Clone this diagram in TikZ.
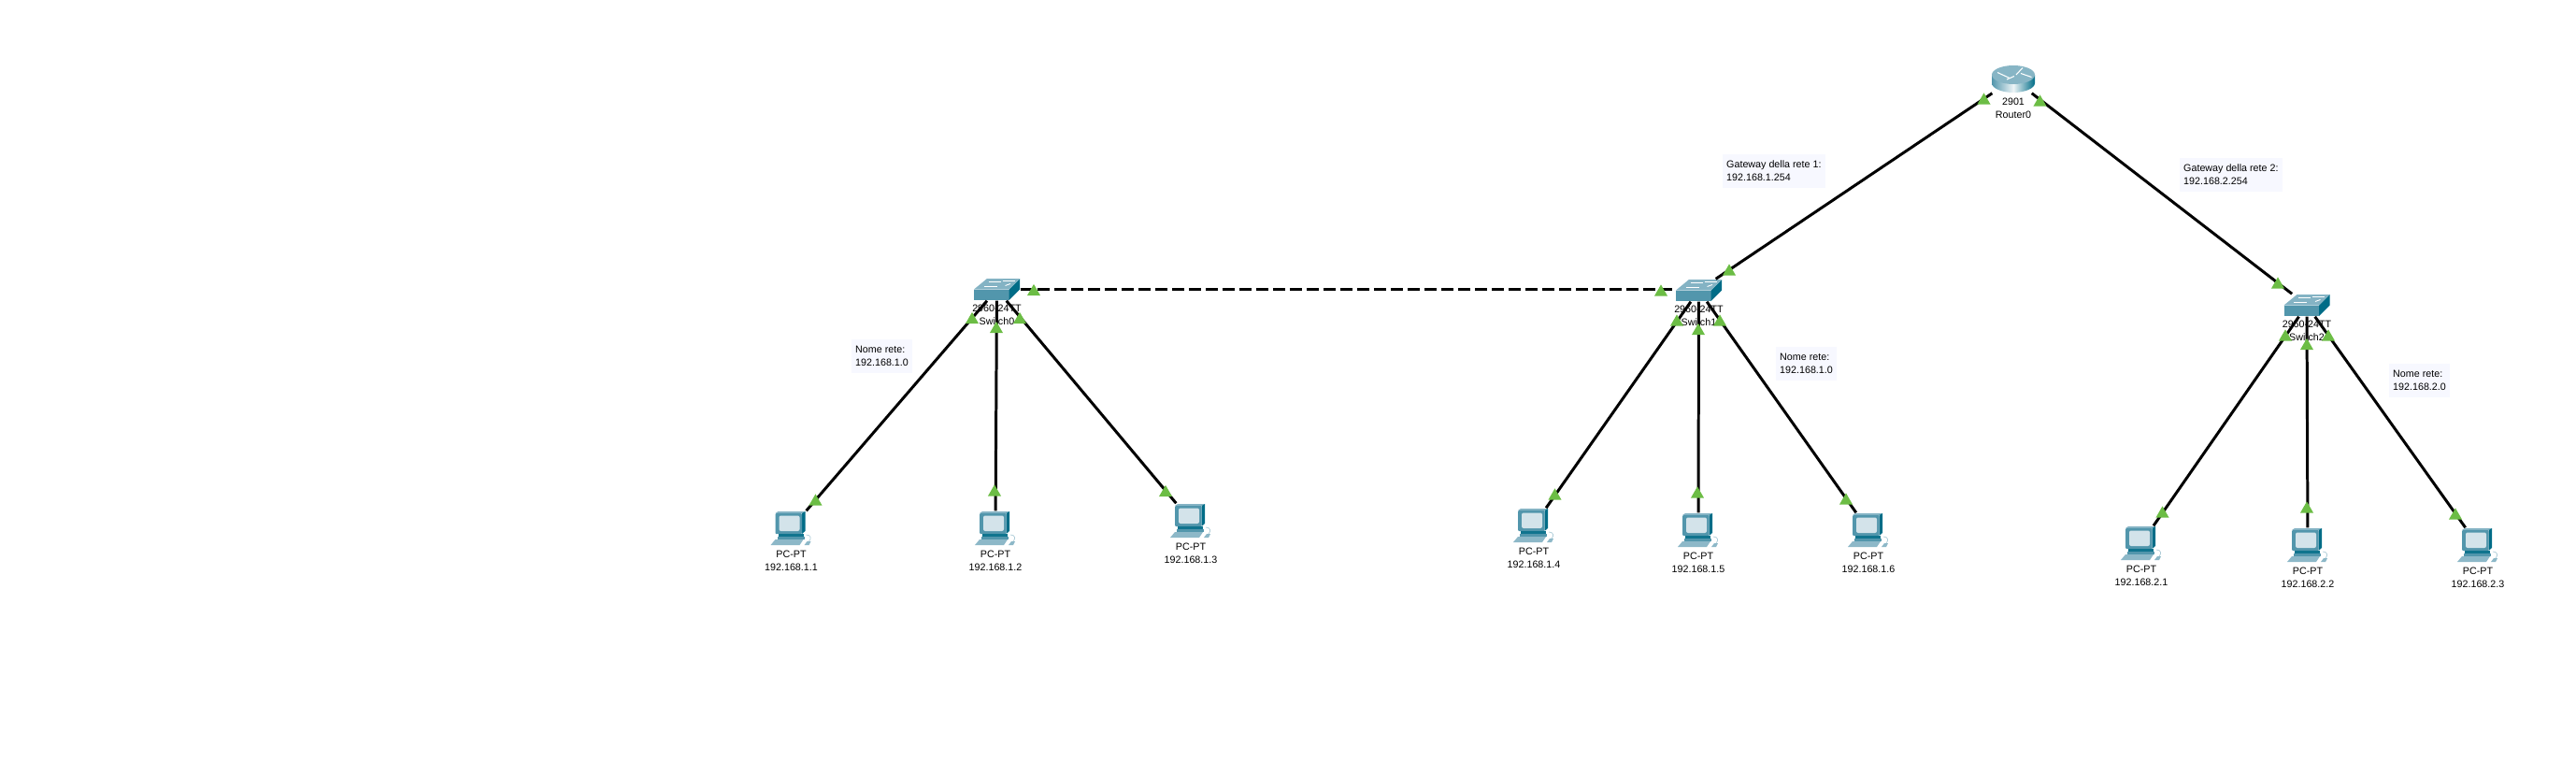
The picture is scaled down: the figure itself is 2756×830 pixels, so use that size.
\documentclass[tikz,border=0pt]{standalone}
\usepackage{fontspec}
\setmainfont{Liberation Sans}
\usetikzlibrary{shapes.geometric, positioning}

\definecolor{lampgreen}{HTML}{6CBD45}
\definecolor{notefill}{HTML}{F7F8FF}
\definecolor{iconlight}{HTML}{8DB8C8}
\definecolor{iconmid}{HTML}{5296AC}
\definecolor{icondark}{HTML}{006C87}
\definecolor{iconscreen}{HTML}{D3E3EA}

% icons, drawn around the centre of their node
\newcommand{\routericon}{%
  \shade[left color=iconmid, right color=icondark, middle color=white!85!iconlight]
    (-23,-4.5) -- (-23,4.5) .. controls (-23,10) and (-12,14.5) .. (0,14.5)
    .. controls (12,14.5) and (23,10) .. (23,4.5) -- (23,-4.5) -- cycle;
  \fill[iconlight!90!iconmid] (0,-4.5) ellipse [x radius=23, y radius=10];
  \draw[white, line width=0.3pt] (-17,-7) -- (-4,-1);
  \draw[white, line width=0.3pt] (3,-4.5) -- (10,-12);
  \draw[white, line width=0.3pt] (8,-6) -- (19.5,-2);
  \draw[white, line width=0.3pt] (-7,0.5) -- (1,-3);
}

\newcommand{\switchicon}{%
  \fill[iconmid] (-24.5,0) rectangle (13,11.5);
  \fill[icondark] (13,0) -- (24.5,-11.5) -- (24.5,0) -- (13,11.5) -- cycle;
  \fill[iconlight!85!iconmid] (-24.5,0) -- (-10.5,-11.5) -- (24.5,-11.5) -- (13,0) -- cycle;
  \draw[white, line width=0.25pt] (-9,-8) -- (4,-8);
  \draw[white, line width=0.25pt] (6,-9) -- (19,-9);
  \draw[white, line width=0.25pt] (-14,-3) -- (0,-3);
  \draw[white, line width=0.25pt] (9,-4) -- (14.5,-6);
}

\newcommand{\pcicon}{%
  \fill[iconlight!85!iconmid] (-17,-16) -- (-14,-18) -- (15,-18) -- (11.5,-16) -- cycle;
  \fill[icondark] (11.5,-16) -- (15,-18) -- (15,3) -- (11.5,6) -- cycle;
  \fill[iconmid, rounded corners=0.01cm] (-17,-16) rectangle (11.5,6);
  \fill[iconscreen, rounded corners=0.02cm] (-13,-13.5) rectangle (9,3);
  \fill[icondark!80!iconmid] (-14,6) rectangle (13,9);
  \fill[iconmid] (-15,9) rectangle (14,12);
  \fill[iconlight] (-22,18) -- (-17,12) -- (13,12) -- (9,18) -- cycle;
  \fill[iconlight] (14,18) -- (17,14) -- (21,14) -- (19,18) -- cycle;
  \draw[iconlight!70!white, line width=0.2pt] (19,14) .. controls (22,11) and (21,7) .. (16,7);
}

\tikzset{
  routerbox/.style={minimum width=0.46cm, minimum height=0.29cm, inner sep=0pt, path picture={\routericon}},
  switchbox/.style={minimum width=0.49cm, minimum height=0.23cm, inner sep=0pt, path picture={\switchicon}},
  pcbox/.style={minimum width=0.44cm, minimum height=0.36cm, inner sep=0pt, path picture={\pcicon}},
  devlabel/.style={inner sep=0pt, align=center, font=\fontsize{3.05}{4}\selectfont},
  notebox/.style={anchor=north west, fill=notefill, inner xsep=0.045cm, inner ysep=0pt, minimum height=0.36cm, align=left, font=\fontsize{3.05}{4}\selectfont},
  link/.style={line width=0.85pt},
  lamp/.style={regular polygon, regular polygon sides=3, minimum size=0.162cm, inner sep=0pt, fill=lampgreen, yshift=-0.02cm}
}

\begin{document}
\begin{tikzpicture}[x=0.01cm, y=-0.01cm]
\useasboundingbox (0,0) rectangle (2756,830);

% devices
\node[routerbox] (router0) at (2154,84.5) {};
\node[switchbox] (switch0) at (1066.5,309.5) {};
\node[switchbox] (switch1) at (1817.5,310.5) {};
\node[switchbox] (switch2) at (2468,326.5) {};
\node[pcbox] (pc0) at (846.5,565) {};
\node[pcbox] (pc1) at (1065,565) {};
\node[pcbox] (pc2) at (1274,557) {};
\node[pcbox] (pc3) at (1641,562) {};
\node[pcbox] (pc4) at (1817,567) {};
\node[pcbox] (pc5) at (1999,567) {};
\node[pcbox] (pc6) at (2291,581) {};
\node[pcbox] (pc7) at (2469,583) {};
\node[pcbox] (pc8) at (2651,583) {};

% links
\draw[link] (router0) -- (switch1);
\draw[link] (router0) -- (switch2);
\draw[link, dash pattern=on 0.13cm off 0.05cm] (switch0.east) -- (switch0.east -| switch1.west);
\draw[link] (switch0) -- (pc0);
\draw[link] (switch0) -- (pc1);
\draw[link] (switch0) -- (pc2);
\draw[link] (switch1) -- (pc3);
\draw[link] (switch1) -- (pc4);
\draw[link] (switch1) -- (pc5);
\draw[link] (switch2) -- (pc6);
\draw[link] (switch2) -- (pc7);
\draw[link] (switch2) -- (pc8);

% device labels
\node[devlabel, below=0.05cm of router0] (lrouter0) {2901\\Router0};
\node[devlabel, below=0.04cm of switch0] (lswitch0) {2960-24TT\\Switch0};
\node[devlabel, below=0.04cm of switch1] (lswitch1) {2960-24TT\\Switch1};
\node[devlabel, below=0.04cm of switch2] (lswitch2) {2960-24TT\\Switch2};
\node[devlabel, below=0.05cm of pc0] (lpc0) {PC-PT\\192.168.1.1};
\node[devlabel, below=0.05cm of pc1] (lpc1) {PC-PT\\192.168.1.2};
\node[devlabel, below=0.05cm of pc2] (lpc2) {PC-PT\\192.168.1.3};
\node[devlabel, below=0.05cm of pc3] (lpc3) {PC-PT\\192.168.1.4};
\node[devlabel, below=0.05cm of pc4] (lpc4) {PC-PT\\192.168.1.5};
\node[devlabel, below=0.05cm of pc5] (lpc5) {PC-PT\\192.168.1.6};
\node[devlabel, below=0.05cm of pc6] (lpc6) {PC-PT\\192.168.2.1};
\node[devlabel, below=0.05cm of pc7] (lpc7) {PC-PT\\192.168.2.2};
\node[devlabel, below=0.05cm of pc8] (lpc8) {PC-PT\\192.168.2.3};

% link lights
\node[lamp] (lr0a) at (2122.5,105.5) {};
\node[lamp] (lr0b) at (2182.5,107.5) {};
\node[lamp] (ls0a) at (1040,340) {};
\node[lamp] (ls0b) at (1066,350) {};
\node[lamp] (ls0c) at (1091,340) {};
\node[lamp] (ls0d) at (1106,310) {};
\node[lamp] (ls1a) at (1777,310.5) {};
\node[lamp] (ls1b) at (1850,288.5) {};
\node[lamp] (ls1c) at (1794,342.5) {};
\node[lamp] (ls1d) at (1817,352) {};
\node[lamp] (ls1e) at (1840,342.5) {};
\node[lamp] (ls2a) at (2437,302.5) {};
\node[lamp] (ls2b) at (2445,358.5) {};
\node[lamp] (ls2c) at (2468,368) {};
\node[lamp] (ls2d) at (2491,358.5) {};
\node[lamp] (lp0) at (872.5,534.5) {};
\node[lamp] (lp1) at (1064,524.5) {};
\node[lamp] (lp2) at (1247,525) {};
\node[lamp] (lp3) at (1663.5,528.5) {};
\node[lamp] (lp4) at (1816,526.5) {};
\node[lamp] (lp5) at (1975,533.5) {};
\node[lamp] (lp6) at (2313.5,547.5) {};
\node[lamp] (lp7) at (2468,542.5) {};
\node[lamp] (lp8) at (2627,549.5) {};

% notes
\node[notebox] (note0) at (910,362) {Nome rete:\\192.168.1.0};
\node[notebox] (note1) at (1899,370) {Nome rete:\\192.168.1.0};
\node[notebox] (note2) at (2555,388) {Nome rete:\\192.168.2.0};
\node[notebox] (gate1) at (1842,164) {Gateway della rete 1:\\192.168.1.254};
\node[notebox] (gate2) at (2331,168) {Gateway della rete 2:\\192.168.2.254};
\end{tikzpicture}
\end{document}
